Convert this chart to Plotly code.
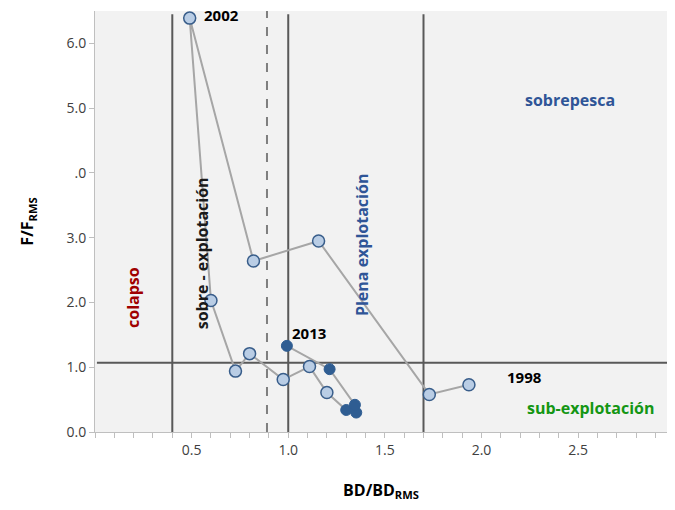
import plotly.graph_objects as go

# Data
years = list(range(1998, 2014))
bd = [1.935, 1.73, 1.157, 0.82, 0.49, 0.60, 0.727, 0.80, 0.974, 1.11, 1.20,
      1.30, 1.352, 1.345, 1.214, 0.993]
ff = [0.73, 0.58, 2.95, 2.64, 6.39, 2.03, 0.94, 1.21, 0.81, 1.01, 0.61,
      0.34, 0.30, 0.42, 0.97, 1.33]
recent_from = 2009  # dark markers from this year on

x_tick_vals = [0.5, 1.0, 1.5, 2.0, 2.5]
x_tick_text = ["0.5", "1.0", "1.5", "2.0", "2.5"]
y_tick_vals = [0, 1, 2, 3, 4, 5, 6]
y_tick_text = ["0.0", "1.0", "2.0", "3.0", ".0", "5.0", "6.0"]

ref_solid_x = [0.4, 1.0, 1.7]
ref_dashed_x = [0.89]
ref_h_y = 1.07

FONT = "Open Sans"

old_x = [b for b, y in zip(bd, years) if y < recent_from]
old_y = [f for f, y in zip(ff, years) if y < recent_from]
new_x = [b for b, y in zip(bd, years) if y >= recent_from]
new_y = [f for f, y in zip(ff, years) if y >= recent_from]

fig = go.Figure()

shapes = []
for xv in ref_solid_x:
    shapes.append(dict(type="line", x0=xv, x1=xv, y0=0, y1=6.45, xref="x", yref="y",
                       line=dict(color="#595959", width=2), layer="below"))
for xv in ref_dashed_x:
    shapes.append(dict(type="line", x0=xv, x1=xv, y0=0, y1=6.5, xref="x", yref="y",
                       line=dict(color="#7f7f7f", width=2, dash="dash"), layer="below"))
shapes.append(dict(type="line", x0=0.01, x1=2.96, y0=ref_h_y, y1=ref_h_y, xref="x", yref="y",
                   line=dict(color="#595959", width=2), layer="below"))

fig.add_trace(go.Scatter(x=bd, y=ff, mode="lines",
                         line=dict(color="#a6a6a6", width=2), hoverinfo="skip",
                         showlegend=False))
fig.add_trace(go.Scatter(x=old_x, y=old_y, mode="markers",
                         marker=dict(size=12, color="#b9cde5",
                                     line=dict(color="#385d8a", width=1.5)),
                         showlegend=False))
fig.add_trace(go.Scatter(x=new_x, y=new_y, mode="markers",
                         marker=dict(size=11, color="#2f5d92",
                                     line=dict(color="#2f5d92", width=1)),
                         showlegend=False))

ann = []
def label(text, x, y, color="#000000", size=15, angle=0, xanchor="center"):
    ann.append(dict(text="<b>" + text + "</b>", x=x, y=y, xref="x", yref="y",
                    showarrow=False, textangle=angle, xanchor=xanchor,
                    yanchor="middle",
                    font=dict(family=FONT, size=size, color=color)))

label("2002", 0.555, 6.44, xanchor="left")
label("2013", 1.01, 1.53, xanchor="left")
label("1998", 2.22, 0.85)
label("sobrepesca", 2.456, 5.12, color="#2f5597", size=16)
label("sub-explotación", 2.565, 0.37, color="#149614", size=16)
label("colapso", 0.197, 2.07, color="#a00000", size=16, angle=-90)
label("sobre - explotación", 0.554, 2.76, color="#1a1a1a", size=16, angle=-90)
label("Plena explotación", 1.383, 2.89, color="#2f5597", size=16, angle=-90)

# the page adds an 8px body margin; the figure is sized to fit the window
fig.update_layout(
    width=659, height=494,
    margin=dict(l=87, r=0, t=3, b=70),
    paper_bgcolor="white",
    plot_bgcolor="#f2f2f2",
    shapes=shapes,
    annotations=ann,
    font=dict(family=FONT, size=14, color="#404040"),
    xaxis=dict(range=[0, 2.96], tickvals=x_tick_vals, ticktext=x_tick_text,
               showgrid=False, zeroline=False, showline=True, linecolor="#bfbfbf",
               linewidth=1, ticks="outside", ticklen=5, tickcolor="#bfbfbf",
               minor=dict(dtick=0.1, tick0=0, ticks="outside", ticklen=5,
                          tickcolor="#bfbfbf", showgrid=False),
               tickfont=dict(family=FONT, size=14, color="#404040"),
               title=dict(text="<b>BD/BD<sub>RMS</sub></b>", standoff=30,
                          font=dict(family=FONT, size=16, color="#000000"))),
    yaxis=dict(range=[0, 6.5], tickvals=y_tick_vals, ticktext=y_tick_text,
               showgrid=False, zeroline=False, showline=True, linecolor="#bfbfbf",
               linewidth=1, ticks="outside", ticklen=5, tickcolor="#bfbfbf",
               tickfont=dict(family=FONT, size=14, color="#404040"),
               title=dict(text="<b>F/F<sub>RMS</sub></b>", standoff=28,
                          font=dict(family=FONT, size=16, color="#000000"))),
)

fig.write_html("out.html")
